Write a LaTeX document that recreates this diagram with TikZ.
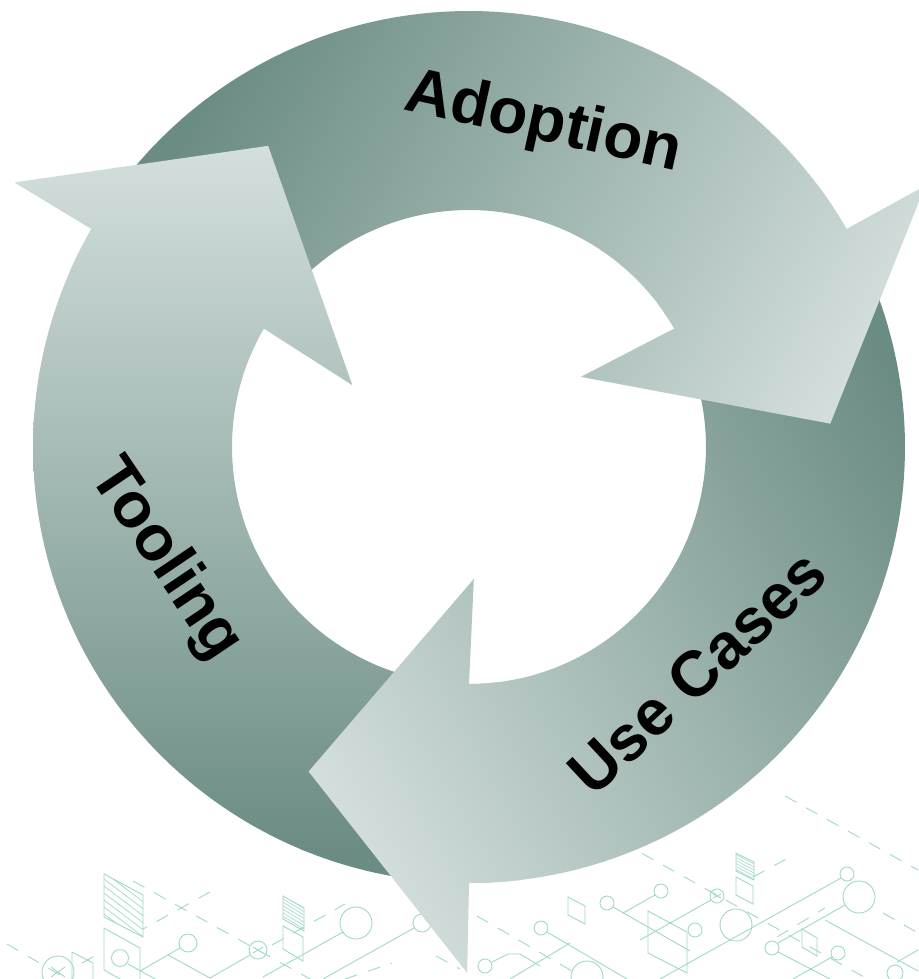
\documentclass[tikz,border=0pt]{standalone}
\usepackage{fontspec}
\setmainfont{Liberation Sans}
\definecolor{arrdark}{RGB}{107,140,132}
\definecolor{arrlight}{RGB}{212,223,221}
\definecolor{mint}{RGB}{160,218,198}
\newcommand\ArrBody{plot[domain=90:210,samples=90] ({469+436*cos(\x)},{447+436*sin(\x)}) -- plot[domain=210:90,samples=90] ({469+237*cos(\x)},{447+237*sin(\x)}) -- cycle}
\newcommand\ArrHead{plot[domain=203:210,samples=8] ({469+436*cos(\x)},{447+436*sin(\x)}) -- ({469+526*cos(210.2)},{447+526*sin(210.2)}) -- ({469+362*cos(236.3)},{447+362*sin(236.3)}) -- ({469+132*cos(207.9)},{447+132*sin(207.9)}) -- plot[domain=210:203,samples=8] ({469+237*cos(\x)},{447+237*sin(\x)}) -- cycle}
\newcommand\ArrShade{\shade[top color=arrlight,bottom color=arrdark] (0,145) rectangle (480,850); \fill[arrdark] (0,849) rectangle (480,890);}
\tikzset{
  ln/.style={draw=mint, line width=0.9pt},
  dsh/.style={ln, dash pattern=on 13pt off 11pt},
  lbl/.style={inner sep=0pt, font=\fontsize{64}{64}\selectfont\bfseries, text=black},
}
\begin{document}
\begin{tikzpicture}[x=1pt,y=-1pt]
\useasboundingbox (0,0) rectangle (918,979);
\fill[white] (0,0) rectangle (918,979);

% ---------- background circuit pattern ----------
% left part
\draw[dsh] (7,944) -- (62,976);
\draw[ln] (58,972) circle[radius=16];
\draw[ln] (51,967) -- (65,977) (51,977) -- (65,967);
\draw[ln] (72,985) -- (72,952) -- (93,963) -- (93,985);
\draw[dsh] (82,963) -- (100,953);
\draw[ln] (104,928) -- (140,948) -- (140,990) -- (104,970) -- cycle;
\draw[ln] (120,958) circle[radius=8.5];
\draw[ln] (128,964) -- (157,980);
\draw[ln] (104,874) -- (143,895) -- (143,937) -- (104,917) -- cycle;
\begin{scope}
  \clip (104,874) -- (143,895) -- (143,937) -- (104,917) -- cycle;
  \foreach \i in {-40,-33,...,50} \draw[ln, line width=0.7pt] (100,874+\i) -- (150,874+\i+38);
\end{scope}
\draw[dsh] (133,881) -- (312,980);
\draw[dsh] (210,892) -- (143,929);
\draw[ln] (188,943) circle[radius=9];
\draw[ln] (180,948) -- (140,971);
\draw[ln] (168,955) -- (210,978) -- (250,955);
\draw[ln] (258,950) circle[radius=9];
\draw[ln] (253,947) -- (263,953) (253,953) -- (263,947);
\draw[ln] (283,896) -- (304,908) -- (304,931) -- (283,919) -- cycle;
\begin{scope}
  \clip (283,896) -- (304,908) -- (304,931) -- (283,919) -- cycle;
  \foreach \i in {-20,-16.5,...,40} \draw[ln, line width=0.6pt] (280,896+\i) -- (308,896+\i+17);
\end{scope}
\draw[ln] (283,926) -- (303,937) -- (303,961) -- (283,949) -- cycle;
\draw[dsh] (272,945) -- (345,904);
\draw[ln] (356,923) circle[radius=16];
\draw[ln] (343,932) -- (263,977);
\draw[ln] (422,923) circle[radius=9];
\draw[ln] (414,928) -- (323,979);
\draw[dsh] (345,979) -- (392,963);
\draw[dsh] (436,956) -- (460,969);
% right part
\draw[dsh] (785,796) -- (918,870);
\draw[dsh] (600,830) -- (918,1007);
\draw[ln] (736,853) -- (754,862) -- (754,880) -- (736,871) -- cycle;
\begin{scope}
  \clip (736,853) -- (754,862) -- (754,880) -- (736,871) -- cycle;
  \foreach \i in {-15,-12,...,30} \draw[ln, line width=0.6pt] (733,853+\i) -- (758,853+\i+13);
\end{scope}
\draw[ln] (736,877) -- (753,886) -- (753,904) -- (736,895) -- cycle;
\draw[dsh] (753,877) -- (788,858);
\draw[ln] (717,896) circle[radius=7];
\draw[ln] (713,894) -- (721,898) (713,898) -- (721,894);
\draw[ln] (711,900) -- (640,940);
\draw[ln] (661,891) circle[radius=7];
\draw[ln] (655,895) -- (623,913);
\draw[ln] (607,903) circle[radius=7];
\draw[ln] (613,907) -- (690,951);
\draw[ln] (568,897) -- (585,906) -- (585,924) -- (568,915) -- cycle;
\draw[ln] (695,930) circle[radius=7];
\draw[ln] (648,911) -- (687,932) -- (687,973) -- (648,953) -- cycle;
\draw[ln] (541,928) circle[radius=7];
\draw[ln] (547,932) -- (627,979);
\draw[ln] (570,943) -- (510,979);
\draw[ln] (485,966) circle[radius=7];
\draw[ln] (492,962) -- (508,954) -- (520,954) -- (540,966);
\draw[dsh] (477,916) -- (572,971);
\draw[ln] (736,925) circle[radius=16];
\draw[ln] (847,874) circle[radius=7];
\draw[ln] (841,878) -- (660,979);
\draw[ln] (859,897) circle[radius=16];
\draw[ln] (845,905) -- (778,943);
\draw[ln] (772,948) circle[radius=7];
\draw[ln] (802,929) -- (817,938) -- (817,956) -- (802,947) -- cycle;
\draw[ln] (838,953) circle[radius=7];
\draw[ln] (832,957) -- (793,979);
\draw[ln] (825,920) -- (918,971);
\draw[dsh] (883,913) -- (918,933);
\draw[ln] (895,973) circle[radius=8];
\draw[dsh] (777,937) -- (825,908);
\draw[ln] (897,962) -- (918,950);
\draw[ln] (587,977) circle[radius=16];
\draw[ln] (778,952) -- (830,979);

% ---------- arrow bodies ----------
\foreach \k in {0,1,2} {
  \pgfmathsetmacro\ang{-120*\k}
  \begin{scope}[transform canvas={rotate around={\ang:(469,447)}}]
    \begin{scope}
      \clip \ArrBody;
      \ArrShade
    \end{scope}
  \end{scope}
}
% ---------- arrow heads ----------
\foreach \k in {0,1,2} {
  \pgfmathsetmacro\ang{-120*\k}
  \begin{scope}[transform canvas={rotate around={\ang:(469,447)}}]
    \begin{scope}
      \clip \ArrHead;
      \ArrShade
    \end{scope}
  \end{scope}
}

% ---------- labels ----------
\node[lbl, rotate=-12.5] (adoption) at (543,124) {Adoption};
\node[lbl, rotate=-56] (tooling) at (165,560) {Tooling};
\node[lbl, rotate=43] (usecases) at (697,672) {Use Cases};
\end{tikzpicture}
\end{document}
